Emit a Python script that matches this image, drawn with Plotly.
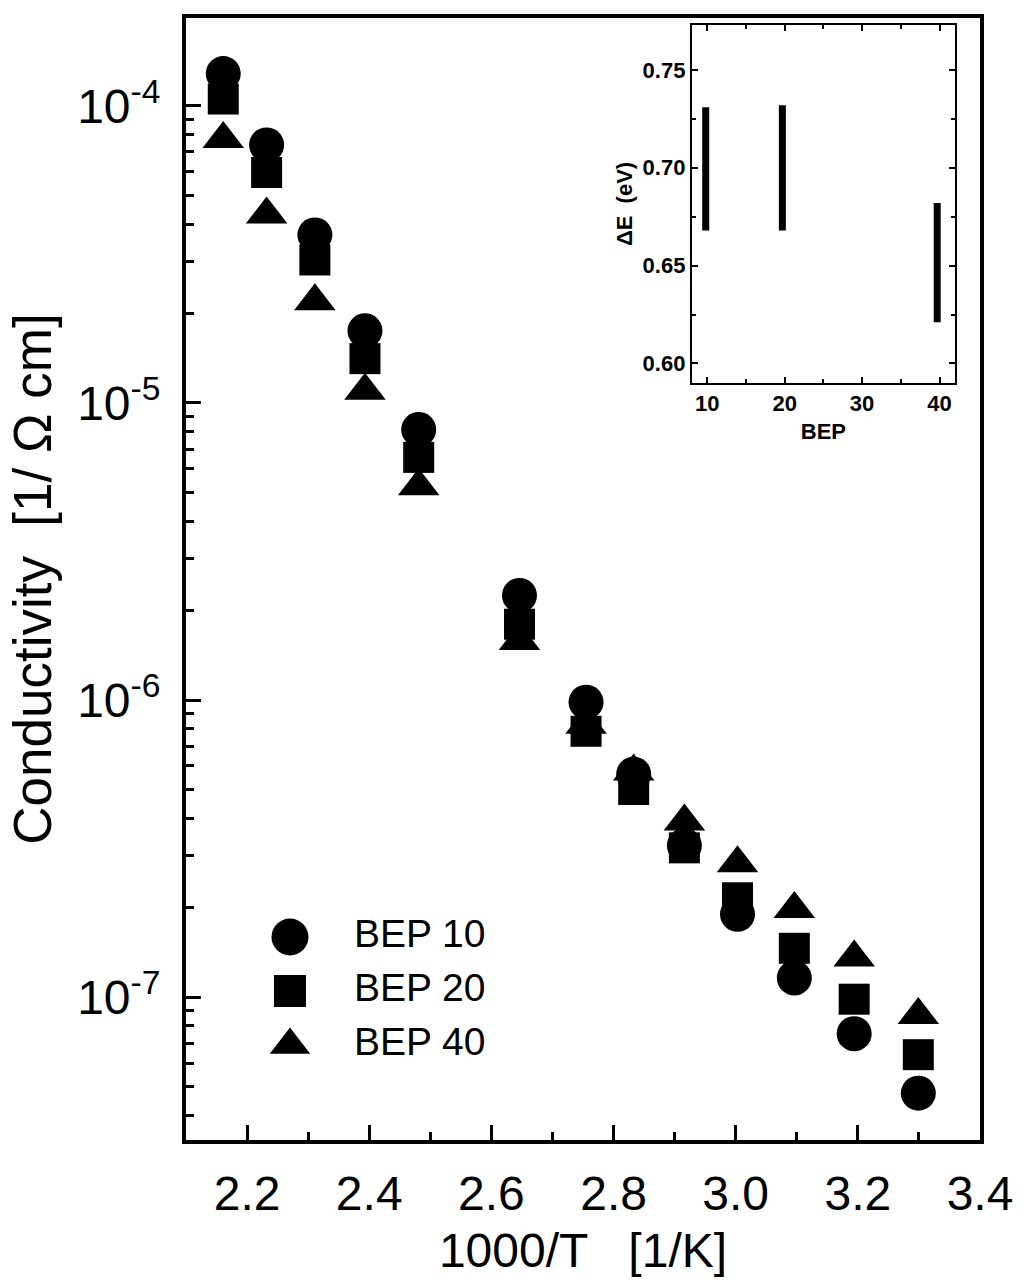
import plotly.graph_objects as go
import numpy as np

# ---------------- data ----------------
inv_T = [2.161, 2.232, 2.311, 2.393, 2.481, 2.646, 2.755, 2.833, 2.916, 3.003, 3.096, 3.194, 3.299]
sigma_bep10 = [1.285e-4, 7.39e-5, 3.68e-5, 1.75e-5, 8.14e-6, 2.25e-6, 9.84e-7, 5.63e-7,
               3.24e-7, 1.90e-7, 1.16e-7, 7.53e-8, 4.75e-8]
sigma_bep20 = [1.055e-4, 5.97e-5, 3.03e-5, 1.41e-5, 6.56e-6, 1.80e-6, 7.85e-7, 5.00e-7,
               3.18e-7, 2.16e-7, 1.46e-7, 9.84e-8, 6.40e-8]
sigma_bep40 = [7.74e-5, 4.31e-5, 2.20e-5, 1.10e-5, 5.24e-6, 1.58e-6, 8.26e-7, 5.75e-7,
               3.90e-7, 2.82e-7, 1.98e-7, 1.36e-7, 8.70e-8]
series_names = ["BEP 10", "BEP 20", "BEP 40"]

# inset: activation energy ranges
bep = [9.8, 19.7, 39.7]
dE_low = [0.668, 0.668, 0.621]
dE_high = [0.731, 0.732, 0.682]

x_tick_vals = [2.2, 2.4, 2.6, 2.8, 3.0, 3.2, 3.4]
x_tick_text = ["2.2", "2.4", "2.6", "2.8", "3.0", "3.2", "3.4"]
y_tick_vals = [1e-7, 1e-6, 1e-5, 1e-4]
y_tick_text = ["10<sup>-7</sup>", "10<sup>-6</sup>", "10<sup>-5</sup>", "10<sup>-4</sup>"]
inset_x_ticks = [10, 20, 30, 40]
inset_y_ticks = [0.60, 0.65, 0.70, 0.75]

FONT = "Liberation Sans, Arial, Helvetica, sans-serif"
symbols = ["circle", "square", "triangle-up"]
sizes = [35, 31, 36]
legend_sizes = [37, 32, 35]

fig = go.Figure()

for name, vals, sym, sz in zip(series_names, [sigma_bep10, sigma_bep20, sigma_bep40], symbols, sizes):
    fig.add_trace(go.Scatter(
        x=inv_T, y=vals, mode="markers", name=name, showlegend=False,
        marker=dict(symbol=sym, size=sz, color="black", line=dict(width=0)),
        xaxis="x", yaxis="y", cliponaxis=False))

# inset bars
bx, by = [], []
for b, lo, hi in zip(bep, dE_low, dE_high):
    bx += [b, b, None]
    by += [lo, hi, None]
fig.add_trace(go.Scatter(x=bx, y=by, mode="lines", line=dict(color="black", width=7),
                         showlegend=False, xaxis="x2", yaxis="y2"))

# manual legend (large symbols)
for name, sym, sz in zip(series_names, symbols, legend_sizes):
    fig.add_trace(go.Scatter(x=[1], y=[name], mode="markers", showlegend=False,
                             marker=dict(symbol=sym, size=sz, color="black"),
                             xaxis="x3", yaxis="y3", cliponaxis=False))
fig.add_trace(go.Scatter(x=[4.2] * len(series_names), y=series_names, text=series_names,
                         mode="text", textposition="middle right",
                         textfont=dict(family=FONT, size=39, color="black"),
                         showlegend=False, xaxis="x3", yaxis="y3", cliponaxis=False))

minor_y = [m * 10.0 ** e for e in range(-8, -3) for m in range(2, 10)]

fig.update_layout(
    width=1026, height=1287,
    margin=dict(l=186, r=46, t=18, b=147),
    paper_bgcolor="white", plot_bgcolor="white",
    font=dict(family=FONT, color="black"),
    showlegend=False,
    xaxis=dict(
        range=[2.1, 3.4], tickmode="array", tickvals=x_tick_vals, ticktext=x_tick_text,
        ticks="inside", ticklen=15, tickwidth=3, tickcolor="black",
        showline=True, linewidth=4, linecolor="black", mirror=True,
        showgrid=False, zeroline=False,
        tickfont=dict(family=FONT, size=48), ticklabelstandoff=8,
        minor=dict(ticks="inside", ticklen=8, tickwidth=3, tickcolor="black",
                   dtick=0.1, tick0=2.1, showgrid=False),
        title=dict(text="1000/T\u00a0\u00a0\u00a0[1/K]", font=dict(family=FONT, size=48), standoff=16),
    ),
    yaxis=dict(
        type="log", range=[-7.481, -3.704], tickmode="array",
        tickvals=y_tick_vals, ticktext=y_tick_text,
        ticks="inside", ticklen=15, tickwidth=3, tickcolor="black",
        showline=True, linewidth=4, linecolor="black", mirror=True,
        showgrid=False, zeroline=False,
        tickfont=dict(family=FONT, size=48), ticklabelstandoff=12,
        minor=dict(ticks="inside", ticklen=8, tickwidth=3, tickcolor="black",
                   tickvals=minor_y, showgrid=False),
        title=dict(text="Conductivity\u00a0\u00a0[1/\u00a0\u03a9\u00a0cm]",
                   font=dict(family=FONT, size=53), standoff=10),
    ),
    xaxis2=dict(
        domain=[0.637, 0.9685], anchor="y2", range=[8, 42],
        tickmode="array", tickvals=inset_x_ticks,
        ticks="inside", ticklen=6, tickwidth=2, tickcolor="black",
        showline=True, linewidth=2, linecolor="black", mirror="ticks",
        showgrid=False, zeroline=False,
        tickfont=dict(family=FONT, size=22, weight="bold"),
        minor=dict(ticks="inside", ticklen=4, tickwidth=2, tickcolor="black", dtick=5, tick0=5, showgrid=False),
        title=dict(text="BEP", font=dict(family=FONT, size=22, weight="bold"), standoff=8),
    ),
    yaxis2=dict(
        domain=[0.6747, 0.9938], anchor="x2", range=[0.59, 0.773],
        tickmode="array", tickvals=inset_y_ticks, tickformat=".2f",
        ticks="inside", ticklen=6, tickwidth=2, tickcolor="black",
        showline=True, linewidth=2, linecolor="black", mirror="ticks",
        showgrid=False, zeroline=False,
        tickfont=dict(family=FONT, size=22, weight="bold"),
        minor=dict(ticks="inside", ticklen=4, tickwidth=2, tickcolor="black", dtick=0.025, tick0=0.575, showgrid=False),
        title=dict(text="\u0394E\u00a0\u00a0(eV)", font=dict(family=FONT, size=22, weight="bold"), standoff=4),
    ),
    xaxis3=dict(domain=[0.1058, 0.433], anchor="y3", range=[0, 13], visible=False, fixedrange=True),
    yaxis3=dict(domain=[0.0606, 0.205], anchor="x3", type="category",
                categoryorder="array", categoryarray=series_names, range=[2.5, -0.5],
                visible=False, fixedrange=True),
)

fig.write_html("out.html")
